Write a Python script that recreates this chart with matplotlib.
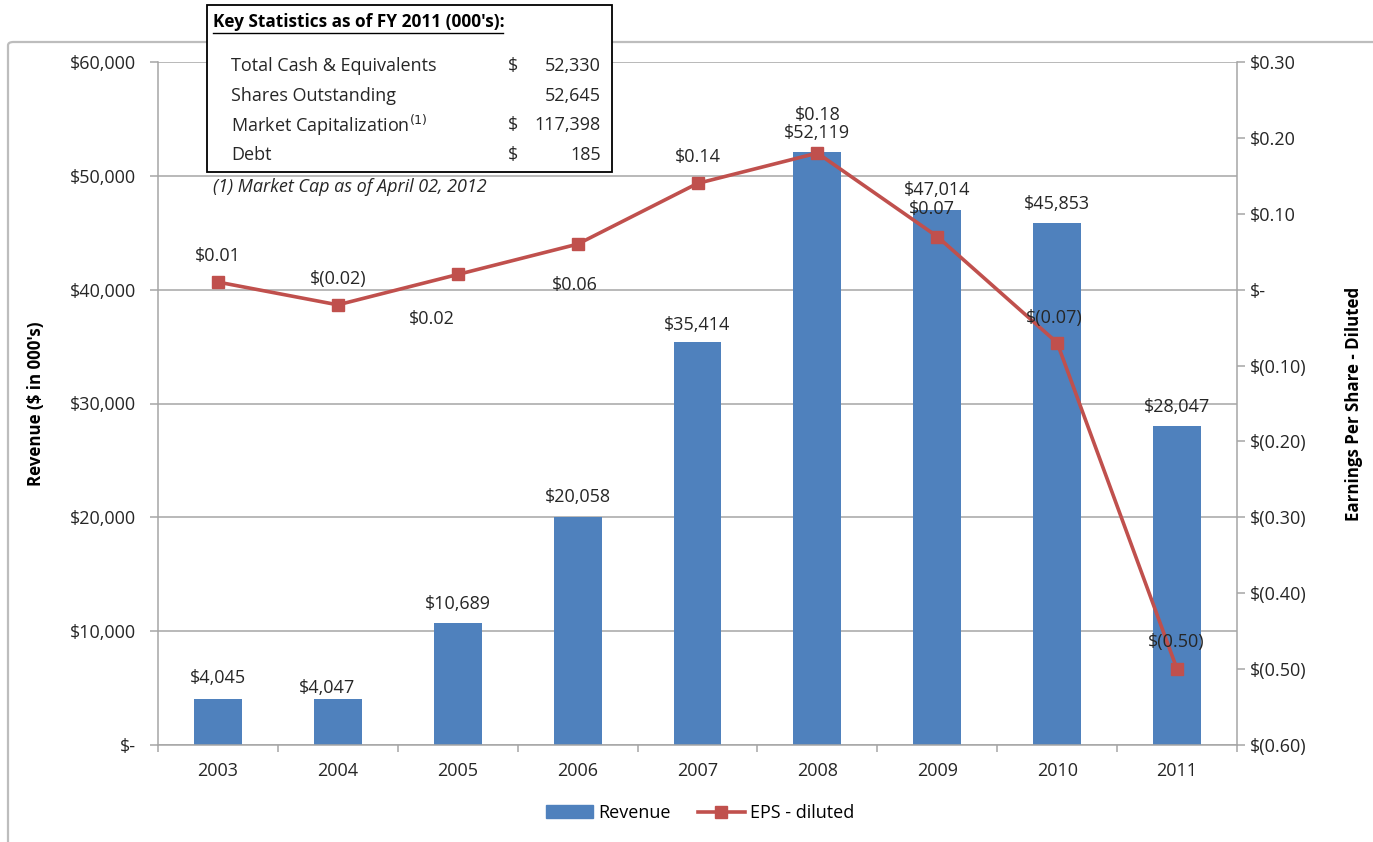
import matplotlib
matplotlib.use("Agg")
import matplotlib.pyplot as plt
import matplotlib.patches as mpatches
from matplotlib.lines import Line2D
import numpy as np

plt.rcParams['font.family'] = ['Open Sans', 'DejaVu Sans']

years = ['2003', '2004', '2005', '2006', '2007', '2008', '2009', '2010', '2011']
revenue = [4045, 4047, 10689, 20058, 35414, 52119, 47014, 45853, 28047]
eps = [0.01, -0.02, 0.02, 0.06, 0.14, 0.18, 0.07, -0.07, -0.50]
rev_labels = ['$4,045', '$4,047', '$10,689', '$20,058', '$35,414', '$52,119', '$47,014', '$45,853', '$28,047']
eps_labels = ['$0.01', '$(0.02)', '$0.02', '$0.06', '$0.14', '$0.18', '$0.07', '$(0.07)', '$(0.50)']
left_ticks = [0, 10000, 20000, 30000, 40000, 50000, 60000]
left_ticklabels = ['$-', '$10,000', '$20,000', '$30,000', '$40,000', '$50,000', '$60,000']
right_ticks = [-0.6, -0.5, -0.4, -0.3, -0.2, -0.1, 0.0, 0.1, 0.2, 0.3]
right_ticklabels = ['$(0.60)', '$(0.50)', '$(0.40)', '$(0.30)', '$(0.20)', '$(0.10)', '$-', '$0.10', '$0.20', '$0.30']
stat_names = ['Total Cash & Equivalents', 'Shares Outstanding', 'Market Capitalization$^{(1)}$', 'Debt']
stat_dollar = ['$', '', '$', '$']
stat_values = ['52,330', '52,645', '117,398', '185']

# Label offsets in pixels relative to the mark (style only)
eps_offsets = [(0, 26), (0, 26), (-26, -45), (-3, -41), (0, 26), (0, 38), (-5, 28), (-3, 25), (-1, 27)]
rev_offsets = [(0, 21), (-11, 11), (0, 19), (0, 20), (0, 17), (0, 19), (0, 20), (0, 19), (0, 19)]

W, H = 1373, 842
fig = plt.figure(figsize=(W / 100, H / 100), dpi=100)
FS = 13
FS_LAB = 12.2
PX = 0.72  # points per pixel at 100 dpi

def fx(x):
    return x / W

def fy(y):
    return 1 - y / H

# Outer frame
frame = mpatches.FancyBboxPatch((fx(8), fy(1000)), fx(1450), fy(42) - fy(1000),
                                boxstyle="round,pad=0,rounding_size=0.004",
                                transform=fig.transFigure, fill=False,
                                edgecolor='#bdbdbd', linewidth=1.6, clip_on=False)
fig.patches.append(frame)

ax = fig.add_axes([fx(158), fy(745), fx(1237) - fx(158), fy(62) - fy(745)])
ax2 = ax.twinx()

x = np.arange(len(years))
bar_color = '#4F81BD'
line_color = '#C0504D'
grid_color = '#a6a6a6'
text_color = '#262626'

ax.bar(x, revenue, width=0.4, color=bar_color, zorder=2)
ax.set_xlim(-0.5, len(years) - 0.5)
ax.set_ylim(0, 60000)
ax.set_yticks(left_ticks)
ax.set_yticklabels(left_ticklabels, fontsize=FS, color=text_color)
ax.yaxis.grid(True, color=grid_color, linewidth=1.1, zorder=0)
ax.set_axisbelow(True)
ax.set_xticks(x)
ax.set_xticklabels(years, fontsize=FS, color=text_color)
ax.tick_params(axis='x', length=0, pad=12)
ax.set_xticks(np.arange(-0.5, len(years)), minor=True)
ax.tick_params(axis='x', which='minor', length=5, color=grid_color, width=1.1)
ax.tick_params(axis='y', length=6, color=grid_color, width=1.1, pad=10)
for s in ['top', 'right']:
    ax.spines[s].set_visible(False)
for s in ['left', 'bottom']:
    ax.spines[s].set_color(grid_color)
    ax.spines[s].set_linewidth(1.1)
ax.set_ylabel("Revenue ($ in 000's)", fontsize=FS_LAB, fontweight='bold', color='black')
ax.yaxis.set_label_coords((45 - 158) / 1079, 0.5)

for xi, v, lab, (dx, dy) in zip(x, revenue, rev_labels, rev_offsets):
    ax.annotate(lab, (xi, v), xytext=(dx * PX, dy * PX), textcoords='offset points',
                ha='center', va='center', fontsize=FS, color=text_color, zorder=5)

ax2.plot(x, eps, color=line_color, linewidth=2.6, marker='s', markersize=9,
         markeredgecolor=line_color, zorder=4)
ax2.set_ylim(-0.6, 0.3)
ax2.set_yticks(right_ticks)
ax2.set_yticklabels(right_ticklabels, fontsize=FS, color=text_color)
ax2.tick_params(axis='y', length=6, color=grid_color, width=1.1, pad=3.5)
for s in ['top', 'left', 'bottom']:
    ax2.spines[s].set_visible(False)
ax2.spines['right'].set_color(grid_color)
ax2.spines['right'].set_linewidth(1.1)
ax2.set_ylabel("Earnings Per Share - Diluted", fontsize=FS_LAB, fontweight='bold',
               color='black', rotation=90)
ax2.yaxis.set_label_coords((1345 - 158) / 1079, 0.5)

for xi, v, lab, (dx, dy) in zip(x, eps, eps_labels, eps_offsets):
    ax2.annotate(lab, (xi, v), xytext=(dx * PX, dy * PX), textcoords='offset points',
                 ha='center', va='center', fontsize=FS, color=text_color, zorder=6)

# Legend
handles = [mpatches.Patch(color=bar_color, label='Revenue'),
           Line2D([0], [0], color=line_color, linewidth=2.6, marker='s', markersize=8,
                  label='EPS - diluted')]
fig.legend(handles=handles, loc='center', bbox_to_anchor=(fx(700), fy(813)), ncol=2,
           frameon=False, fontsize=FS, handlelength=2.6, columnspacing=1.5,
           handletextpad=0.3)

# Key statistics box
box = mpatches.Rectangle((fx(207), fy(172)), fx(612) - fx(207), fy(5) - fy(172),
                         transform=fig.transFigure, facecolor='white',
                         edgecolor='black', linewidth=1.3, zorder=10)
fig.patches.append(box)
fig.text(fx(213), fy(22), "Key Statistics as of FY 2011 (000's):", fontsize=FS - 0.6,
         fontweight='bold', ha='left', va='center', color='black', zorder=11)
fig.add_artist(Line2D([fx(213), fx(503)], [fy(33), fy(33)], color='black',
                      linewidth=1.0, transform=fig.transFigure, zorder=11))
row_y = [66, 96, 125, 155]
for ry, name, d, val in zip(row_y, stat_names, stat_dollar, stat_values):
    fig.text(fx(231), fy(ry), name, fontsize=FS, ha='left', va='center', color=text_color, zorder=11)
    if d:
        fig.text(fx(508), fy(ry), d, fontsize=FS, ha='left', va='center', color=text_color, zorder=11)
    fig.text(fx(601), fy(ry), val, fontsize=FS, ha='right', va='center', color=text_color, zorder=11)
fig.text(fx(213), fy(187), "(1) Market Cap as of April 02, 2012", fontsize=FS,
         style='italic', ha='left', va='center', color=text_color)

fig.savefig('out.png', dpi=100)
